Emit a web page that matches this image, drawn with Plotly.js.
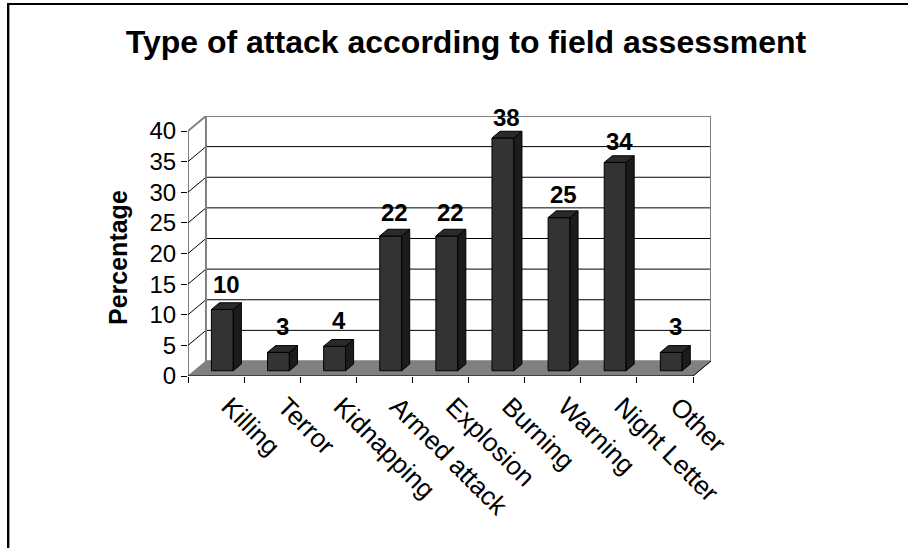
<!DOCTYPE html>
<html>
<head>
<meta charset="utf-8">
<script src="https://cdn.plot.ly/plotly-3.0.1.min.js"></script>
<style>
  html, body { margin: 0; padding: 0; background: #ffffff; }
  #chart { width: 908px; height: 548px; }
</style>
</head>
<body>
<div id="chart"></div>
<script>
// Attack types and their share (%)
const categories = ['Killing', 'Terror', 'Kidnapping', 'Armed attack', 'Explosion', 'Burning', 'Warning', 'Night Letter', 'Other'];
const percentages = [10, 3, 4, 22, 22, 38, 25, 34, 3];
const yTickValues = [0, 5, 10, 15, 20, 25, 30, 35, 40];
const yMax = 40;

// Plot frame in pixels
const FIG_W = 908, FIG_H = 548;
const L = 188, T = 116, PW = 523, PH = 260;

// Pseudo-3D depth of the box (in axis units) and bar placement inside it
const DX = 0.32;        // depth shift along x (category units)
const DY = 2.45;        // depth shift along y (value units)
const FRONT = 0.35;     // depth fraction where the bar front face sits
const DEPTH = 0.45;     // bar depth as a fraction of the box depth
const BAR_W = 0.39;     // bar front width (category units)

const n = categories.length;
const centers = categories.map((_, i) => i + 0.5);

const FONT = 'Liberation Sans, Arial, sans-serif';
const GRAY = '#808080';

// paper coordinates from pixels (for frame decorations)
const px = x => (x - L) / PW;
const py = y => (T + PH - y) / PH;

const shapes = [];
function seg(x0, y0, x1, y1, color, width, ref) {
  shapes.push({
    type: 'line', xref: ref || 'x', yref: ref || 'y',
    x0, y0, x1, y1, layer: 'below',
    line: { color, width }
  });
}

// floor
shapes.push({
  type: 'path', xref: 'x', yref: 'y', layer: 'below',
  path: `M0,0 L${n},0 L${n + DX},${DY} L${DX},${DY} Z`,
  fillcolor: GRAY, line: { color: GRAY, width: 1 }
});

// back wall gridlines and side-wall diagonals
yTickValues.forEach(v => {
  if (v === 0) return;
  const edge = v === yMax;
  seg(DX, v + DY, n + DX, v + DY, edge ? GRAY : '#000000', edge ? 2 : 1);
  seg(0, v, DX, v + DY, edge ? GRAY : '#000000', edge ? 2 : 1);
});
// wall edges
seg(DX, DY, DX, yMax + DY, GRAY, 2);
seg(n + DX, DY, n + DX, yMax + DY, GRAY, 2);
seg(DX, DY, n + DX, DY, GRAY, 1);
// front axes
seg(0, 0, 0, yMax, '#000000', 1);
seg(0, 0, n, 0, '#000000', 1);
seg(n, 0, n + DX, DY, '#000000', 1);

// outer frame (left and top edges)
seg(px(8), py(4), px(8), py(560), '#000000', 2, 'paper');
seg(px(9.5), py(5), px(9.5), py(560), '#9a9a9a', 1, 'paper');
seg(px(7), py(4), px(920), py(4), '#000000', 2, 'paper');

// bar geometry derived from the data
const base = FRONT * DY;
const ddx = DEPTH * DX, ddy = DEPTH * DY;
const barX = centers.map(c => c + FRONT * DX);

const sideX = [], sideY = [], topX = [], topY = [];
percentages.forEach((v, i) => {
  const xl = barX[i] - BAR_W / 2, xr = barX[i] + BAR_W / 2;
  const top = base + v;
  sideX.push(xr, xr + ddx, xr + ddx, xr, xr, null);
  sideY.push(base, base + ddy, top + ddy, top, base, null);
  topX.push(xl, xr, xr + ddx, xl + ddx, xl, null);
  topY.push(top, top, top + ddy, top + ddy, top, null);
});

const traces = [
  {
    type: 'bar', x: barX, y: percentages, base: base, width: BAR_W,
    marker: { color: '#333333', line: { color: '#000000', width: 1 } },
    hoverinfo: 'skip'
  },
  {
    type: 'scatter', mode: 'lines', x: sideX, y: sideY, fill: 'toself',
    fillcolor: '#1c1c1c', line: { color: '#000000', width: 1 }, hoverinfo: 'skip'
  },
  {
    type: 'scatter', mode: 'lines', x: topX, y: topY, fill: 'toself',
    fillcolor: '#2a2a2a', line: { color: '#000000', width: 1 }, hoverinfo: 'skip'
  }
];

// value labels above the bars
const annotations = percentages.map((v, i) => ({
  x: barX[i], y: base + v, xref: 'x', yref: 'y',
  text: String(v), showarrow: false,
  xanchor: 'center', yanchor: 'bottom',
  xshift: 4, yshift: 11 - 0.15 * v,
  font: { family: FONT, size: 24, color: '#000000', weight: 'bold' }
}));

annotations.push({
  x: px(118), y: py(258), xref: 'paper', yref: 'paper',
  text: 'Percentage', textangle: -90, showarrow: false,
  xanchor: 'center', yanchor: 'middle',
  font: { family: FONT, size: 25, color: '#000000', weight: 'bold' }
});

const layout = {
  width: FIG_W, height: FIG_H,
  margin: { l: L, t: T, r: FIG_W - L - PW, b: FIG_H - T - PH, pad: 0 },
  paper_bgcolor: '#ffffff', plot_bgcolor: 'rgba(0,0,0,0)',
  showlegend: false,
  title: {
    text: '<b>Type of attack according to field assessment</b>',
    x: 466 / FIG_W, xanchor: 'center', xref: 'container',
    y: 1 - 42 / FIG_H, yanchor: 'middle', yref: 'container',
    font: { family: FONT, size: 32, color: '#000000' }
  },
  xaxis: {
    range: [0, n + DX], fixedrange: true,
    tickmode: 'array', tickvals: centers, ticktext: categories,
    tickangle: 45, ticks: '', showgrid: false, zeroline: false, showline: false,
    ticklabelshift: 13, ticklabelstandoff: 9,
    tickfont: { family: FONT, size: 26, color: '#000000' },
    minor: {
      tickmode: 'array', tickvals: categories.map((_, i) => i).concat([n]),
      ticks: 'outside', ticklen: 6, tickcolor: '#000000', tickwidth: 1, showgrid: false
    }
  },
  yaxis: {
    range: [0, yMax + DY], fixedrange: true,
    tickmode: 'array', tickvals: yTickValues,
    ticks: 'outside', ticklen: 6, tickcolor: '#000000', tickwidth: 1,
    showgrid: false, zeroline: false, showline: false,
    tickfont: { family: FONT, size: 24, color: '#000000' }
  },
  shapes, annotations,
  bargap: 0
};

Plotly.newPlot('chart', traces, layout, { displayModeBar: false, staticPlot: true });
</script>
</body>
</html>
